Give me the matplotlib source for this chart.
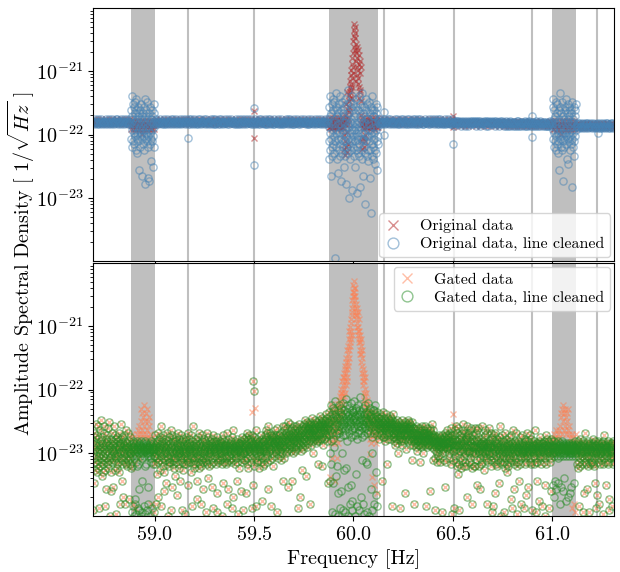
import numpy as np
import matplotlib
matplotlib.use("Agg")
import matplotlib.pyplot as plt
from matplotlib.ticker import LogLocator, NullFormatter, MultipleLocator

plt.rcParams.update({
    "font.family": "serif",
    "font.serif": ["cmr10", "DejaVu Serif"],
    "mathtext.fontset": "cm",
    "axes.formatter.use_mathtext": True,
    "axes.unicode_minus": False,
})

# ---------------- data ----------------
# frequency bins (Hz): a segment starts at SEG_START[k] and advances by its bin step per value
COARSE, FINE = 0.0025, 0.00125
SEG_START = [58.69, 58.88, 59.0, 59.875, 60.125, 61.0, 61.12]

# value codes: index in ALPHA -> log10(ASD) = lo + step * index
ALPHA = "0123456789abcdefghijklmnopqrstuvwxyzABCDEFGHIJKLMNOPQRSTUVWXYZ"
ENC_FLAT = (-21.92, 0.02)    # top panel, untouched bins
ENC_WIDE = (-24.0, 0.065)
ENC_TBAND = (-24.0, 0.045)   # top panel, cleaned line regions
ENC_PEAK = (-23.0, 0.045)    # top panel, 60 Hz line, original
ENC_GPEAK = (-24.0, 0.061)   # bottom panel, 60 Hz line, gated
ENC_BOT = (-24.1, 0.033)     # bottom panel

# --- top panel, bins untouched by line cleaning (shared by both series), COARSE bins
top_flat_0 = "6574865746 5864756847 5665748657 4685675486 7564758685 7465764875 6748657586 476584"
top_flat_1 = ("5748657465 8657465748 6574867546 7586475865 4768576475 6857465786 5746857648 "
              "6475867546 8574657486 5867465758 7465857646 6758467584 5486765748 7645867465 "
              "6857546786 4675867574 5768457648 6547586746 7856475865 5674865746 6485765748 "
              "7546876574 5867457486 6748567546 4857665784 7564857465 6475867548 5786457674 "
              "8465756847 5674856765 6857465748 4765867546 7586475685 5647586746 6758465785")
top_flat_2 = ("6574865746 5867465758 7465867546 6758465784 5647586746 8574657486 6485765748 "
              "5768457648 7546876574 4675867574 6857465786 5746857648 6475867546 7564857465 "
              "5867457486 5463754657 4756463756 6475364576 5364756475 4657563746 7546375465 "
              "5647463756 3756465746 6475637456 4563756475 4536453746 5364735645 3645365473 "
              "4753645365 5463745364 3654736453 6453645374 4365473564 5346536453 3645374635")
top_flat_3 = "3425314253 2413524315 4253142352 3142534214 2531423513 4215324135 2354132415 342513"

# --- top panel, line regions
orig_59 = "xwyxxwyxwx yxwxxyxwwx yxvxywxxwy xxwxyxwxxy wxwyxxwx"                 # COARSE, WIDE
orig_60 = ("qprqpsqprqoqprqpqsrp pqrqpqrspqprqoqrpqsq rqpqsqpqrpqoqrqpsqpr "
           "qhrmtqkfsxqiBnrgvqjs wuAyDzFBHCJEzLGNDKPI TVXRZUWQYSMFPKRHNEQJ "
           "GOzLDIBMCyKtqkrhsqlp qiroqmpqkrqpqsrqpqrq pqrqsqpqrqpoqrpqsqrp "
           "qrpqoqrsqpqrqpqrqpsq")                                            # FINE, PEAK
orig_61 = "xwyxwxxyxw xwxyxwxvxy xwxxywxwxy xwxyxwxwyx xwxyxwxx"                 # COARSE, WIDE
clean_59 = ("NHRKWEPLTGOJ MSFQIUKNDRLV HOCJPMSGKQwN ELRIOTJMuHPK "
            "QFNLSDOIVKrM JPHRGNLUEOtI LQKsMFSJONzH RGPKNIxMTLEQ")              # FINE, TBAND
clean_60 = ("LGSAPJWDNuQHTEMBRKVF IOCUL1NGSJXEPAKRvHQM DTJOFWBMLsRHNCUKGPEQ "
            "xNJSGLBVOIrKTEPDMHYC QFLmNJUAOHSDKWpMGRIE TBPKNxQGLJVDSHoMECRI "
            "KWFNBPqLTHDOJSAXMGuQ HNLESJkPCRGVMIOBTKzD OIUGMtQKDSNhJFRBWLPE "
            "ARJPHNyMDTKQCLwGSIOF")                                            # FINE, TBAND
clean_61 = ("MHSKVEOJRGNL PDUIMFQKTCNJ GRLOwHSKXENI QJMDUGPLsKOH "
            "ESNJRFVMIQAL KOHTyNGPJSDM RIQLFNqKUHOE NJSGMBPIRLTK")              # FINE, TBAND

orig_out_freq = [59.5, 59.5, 60.5, 60.5]
orig_out_log = [-21.63, -22.06, -21.70, -21.88]
clean_out_freq = [59.17, 59.5, 59.5, 60.155, 60.155, 60.5, 60.9, 60.9, 61.23]
clean_out_log = [-22.06, -21.58, -22.48, -21.65, -22.0, -22.15, -21.70, -22.04, -21.98]

# --- bottom panel, bins untouched by line cleaning (shared by both series), FINE bins
bot_flat_0 = ("xD6AjvHpzFtBLwCoyGsK uEqzB7wIrAxNtDvFmyCs AowHuzK8BpxEvCgyGtDq "
              "zJsxBuMvC3AfwEoyHtzD hByKuxCpAwG4vzEsFxqB tDwAzHoxC9BLvyEkuFsA "
              "yCcBwxGtzD9AvIsBxrCu zAHwbyDvFsxq")
bot_flat_1 = ("BwsGzA9xDnvCyHctEAuz xFpBwK8yCtzDrAvGfxBo AyEujzCxHsBw3DvArFty "
              "tCzxI6AwByGhvDsEzuxq DvAmyFxtBzCdwHsAqEyx zBkxCuGwAyt6DvzEpsBx "
              "wAyD4zFxsCvBuHitAzyE CxtBzoAwGy8DvsKxBqzu yEvAsxCzBkDwbtFyAqHv "
              "BsyCwzAr9DxuGvBtgzEy xAzDvBt5CyHswlAFuzxB rDyAwCzsxBvEhtGA7Dzy "
              "zCwBxyAsDveF5zuBtAxC AuyDzBwCxsE3vAjGyBtz DxBzAyvCswHt9BzEgyAu "
              "wBzCyAxtDv7FzBcAuIxy yAsBzDxCwvEktAz4yBqC BzxAyCwDfvzBtF6xAyEu "
              "BxDuAzFeCyHsBvEAqzGy CzAwEyBtDx7AvGiCzBrF AyCvBzIxD8AuEtBzCwyq "
              "DBwzAyGtCxaEvBrzDAsy DzGvEBxIAyFtCHwDBgKz EAyDHuCGzB8DvFxEArGC "
              "CFwDzIBxEyG5DAJvCEzB GBDyAHwCFuzEDBxKkAGv FBIzGDKxEHAJyFCMDhGB "
              "HEzFLBCIyGDkFAJEHxCK DGAIFyHBEKzCGJD7FHAL IFCcGEBHyJDFpIAKGCzE "
              "IELBJGNmHKDMFIAJLGCH KHDJMF9IELGBKHOJDIxF GJLIEHNKCFJMIDGLHsKE "
              "KGNDLJPHMEKIOFrLJHNB LIEKNHMJQFKGLDIOjJMH")
bot_flat_2 = ("LHOEMKQIJNGLPkKMHRFJ MJFLOIKNDHQJLsGMKEOI KNHMJPELIGOKM8JNLHFQ "
              "JFLHDKIMGBJELHNCIKGx HKEIMJ7GLFDJIHBKNEJG IDKGLHJEMeIKFzJHLGDN "
              "GJMEIKHBLJFDKIGMuHJE FBHDJ9GEICFKAHDGyEBJ DGEIBFtHCJEAGDKFBIxH "
              "GCFHDIBEGK8FDHACJGEB EHBGFDJCIfFEHBLDGAFI DuFzCGB6EvDyACFtBxDE "
              "BwCAGDzvFBtCAEDxGB5C CzEuBFAyHChGDtEAICzF AGCxDvBHFzCsJDB4ECGy "
              "BuD7AGyIBwEtKzCrBHDn AxJBsE6yGvBqDFCzuHBL CyIAwDrHBxtFEArKyDcG "
              "zBHxtFyDvBIAsJC9xEqA BGyrADwxJBrAHzEiuDIF AzJxCrygAvBzECsKyBtx "
              "DBAwyCFpBxIGvCzuy9HA CAtBxDJyAwBCHruAxEF5 xB8zGtAvDeyHswCzErBA "
              "uCzAxjFyBwKtzD3AsGvx AyDw5zBtHxqCvAzEsoyB zrCxAvFBwtyDbzGuAxC7 "
              "BwzIsyAgCxDvtzBHrAy4 yAtDzBxkFwCsvAz9GyBx CxzAwBy7DsvEztAdBHyx "
              "wDyAhzCxBtGvzAsyE6Bz AzxCyBwsDvIzA5BtyCxk tBAzyDxCavAwFzsyB8CA "
              "zCwyAxBtDi3vAzGsByxE ByAzDxwC7tAyzBvEfAxD")
bot_flat_3 = ("yAsBzxCqDwtA8zBvrEyx zBwxAsCyD5evzAtByHsw AxyCzgBrDwvAz5sCyBxt "
              "wzByAtCxsEvzArBjyDx7 BxzAydDwCtvBz9AysxCu xAzCwyBs4DvAGztBxyAi "
              "zBxyAwCsDt6bAzBvyxCw AyBzx8CwsDvt")

# --- bottom panel, line regions
gated_59 = "hjgki3fhd2 igkjhlemjk nqlpkomrjn pkqlnjomkh 3jgifhd1"                # COARSE, WIDE
gated_60 = ("mpkrnaqoltjpmfsoknrp ojrmq9plnskofrmpjqnt qsmurvptwqxsvzuwryAt "
            "vBxAzDwCyFBEAHCzGDIE HKFMJLINKPMOLRQSUTWV YXZVWUXSVTQRPSNQOMRL "
            "NKPJMHLGJIEKGHDFBCzA yBwzuAxtvswrqusptrqo pnqlrokmgpnjqmoarnlp "
            "mqo8nlprkmojpnq6lmon")                                            # FINE, GPEAK
gated_61 = "higjkfhjlg ikhjlgmpok qnrplqmokp nlqkmjhigk 2hj3ig1k"                # COARSE, WIDE
gclean_59 = ("zBx5wAr8CyD3 vAzb9BxtCw4z AyDr7sBzxg6C wBzAy3xDvAk5 "
             "CzxBwy8Ar4Dz yAsCx6BzwAh9 BxzAyw3CtDzv A7xByzCs5wAz")              # FINE, BOT
gclean_60 = ("MGRKxkPIUDNs5LQHTjOE JSAN4QKWGMmPrHOLe3SI OKUH7NRFLQfTJMxPGV6K "
             "NLpSGQ5IOXKqMRDUh3PJ QHNT9KOMVFiLSIPa6RNG RJOKWM3PGSnNTLQE8UKH "
             "PMSI6QKNYHcORJuLF9TN LQGP4NJUKOtMRHsQ5IVL NKRM3PHTLQgJOFxN6SMK "
             "OHLS9NQIUKdoPMGR8LOJ")                                            # FINE, BOT
gclean_61 = ("zBxAicyDwAzk AxCgBzwyAjDv yBzAx9CwBhzA xDyAzfBwCxAl "
             "BzAyxCaBwzAy zxBcAyCwzBxe AyBzhxCwAzBy BxAzyjDwxAzB")              # FINE, BOT

gated_shared_out_freq = [59.495, 59.5]
gated_shared_out_log = [-21.87, -22.02]
gated_only_out_freq = [59.49, 59.505, 60.5, 60.505]
gated_only_out_log = [-22.36, -22.30, -22.39, -22.56]

# line-cleaning regions and narrow lines (Hz)
band_edges = [(58.88, 59.0), (59.875, 60.125), (61.0, 61.12)]
line_freqs = [59.17, 59.5, 60.155, 60.505, 60.9, 61.225]

labels = ["Original data", "Original data, line cleaned",
          "Gated data", "Gated data, line cleaned"]


# ---------------- helpers ----------------
def decode(code, enc):
    lo, dv = enc
    idx = np.array([ALPHA.index(c) for c in code.replace(" ", "")], dtype=float)
    return lo + dv * idx


def build(segments, out_f, out_l):
    fs, ls = [], []
    for start, (code, step, enc) in zip(SEG_START, segments):
        vals = decode(code, enc)
        fs.append(start + step * np.arange(len(vals)))
        ls.append(vals)
    fs.append(np.asarray(out_f, float))
    ls.append(np.asarray(out_l, float))
    return np.concatenate(fs), 10.0 ** np.concatenate(ls)


TF = [(top_flat_0, COARSE, ENC_FLAT), (top_flat_1, COARSE, ENC_FLAT),
      (top_flat_2, COARSE, ENC_FLAT), (top_flat_3, COARSE, ENC_FLAT)]
BF = [(bot_flat_0, FINE, ENC_BOT), (bot_flat_1, FINE, ENC_BOT),
      (bot_flat_2, FINE, ENC_BOT), (bot_flat_3, FINE, ENC_BOT)]


def interleave(flat, bands):
    return [flat[0], bands[0], flat[1], bands[1], flat[2], bands[2], flat[3]]


orig_f, orig_v = build(interleave(TF, [(orig_59, COARSE, ENC_WIDE), (orig_60, FINE, ENC_PEAK),
                                       (orig_61, COARSE, ENC_WIDE)]),
                       orig_out_freq, orig_out_log)
clean_f, clean_v = build(interleave(TF, [(clean_59, FINE, ENC_TBAND), (clean_60, FINE, ENC_TBAND),
                                         (clean_61, FINE, ENC_TBAND)]),
                         clean_out_freq, clean_out_log)
gated_f, gated_v = build(interleave(BF, [(gated_59, COARSE, ENC_WIDE), (gated_60, FINE, ENC_GPEAK),
                                         (gated_61, COARSE, ENC_WIDE)]),
                         gated_shared_out_freq + gated_only_out_freq,
                         gated_shared_out_log + gated_only_out_log)
gclean_f, gclean_v = build(interleave(BF, [(gclean_59, FINE, ENC_BOT), (gclean_60, FINE, ENC_BOT),
                                           (gclean_61, FINE, ENC_BOT)]),
                           gated_shared_out_freq, gated_shared_out_log)

# ---------------- figure ----------------
fig = plt.figure(figsize=(6.2, 5.72), dpi=100)
ax1 = fig.add_axes([0.150, 0.5437, 0.8403, 0.4423])
ax2 = fig.add_axes([0.150, 0.0979, 0.8403, 0.4423], sharex=ax1)

for ax in (ax1, ax2):
    for a, b in band_edges:
        ax.axvspan(a, b, color="gray", alpha=0.5, lw=0, zorder=0)
    for lf in line_freqs:
        ax.axvline(lf, color="gray", alpha=0.5, lw=1.5, zorder=0)

ax1.plot(orig_f, orig_v, ls="none", marker="x", ms=4.5, mew=1.0,
         color="#b22222", alpha=0.5, label=labels[0])
ax1.plot(clean_f, clean_v, ls="none", marker="o", ms=5.2, mew=1.0, mfc="none",
         mec="steelblue", alpha=0.5, label=labels[1])

ax2.plot(gated_f, gated_v, ls="none", marker="x", ms=4.5, mew=1.0,
         color="coral", alpha=0.5, label=labels[2])
ax2.plot(gclean_f, gclean_v, ls="none", marker="o", ms=5.2, mew=1.0, mfc="none",
         mec="forestgreen", alpha=0.5, label=labels[3])

for ax in (ax1, ax2):
    ax.set_yscale("log")
    ax.set_ylim(1e-24, 1e-20)
    ax.set_yticks([1e-23, 1e-22, 1e-21])
    ax.yaxis.set_minor_locator(LogLocator(base=10, subs=np.arange(2, 10), numticks=50))
    ax.yaxis.set_minor_formatter(NullFormatter())
    ax.tick_params(axis="both", which="major", labelsize=14.5)

ax1.set_xlim(58.69, 61.31)
ax1.xaxis.set_major_locator(MultipleLocator(0.5))
ax1.tick_params(axis="x", labelbottom=False)
ax2.set_xlabel("Frequency [Hz]", fontsize=14.5)
fig.text(0.035, 0.54, r"Amplitude Spectral Density [ $1/\sqrt{Hz}$ ]",
         rotation=90, ha="center", va="center", fontsize=14.5)

leg_kw = dict(fontsize=11.5, markerscale=1.5, handlelength=1.0, handletextpad=1.2,
              borderaxespad=0.25, labelspacing=0.25, borderpad=0.35)
ax1.legend(loc="lower right", **leg_kw)
ax2.legend(loc="upper right", **leg_kw)

fig.savefig("out.png", dpi=100)
